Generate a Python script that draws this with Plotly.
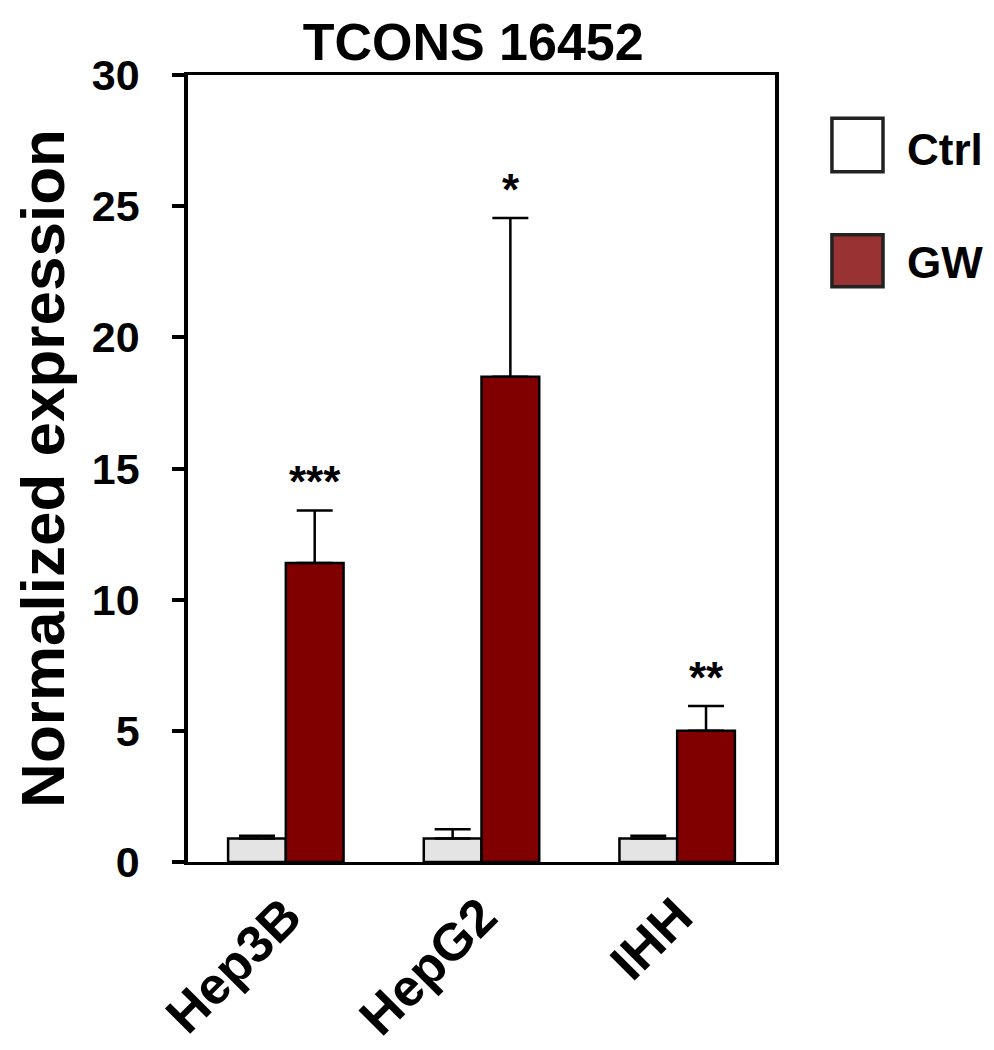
import plotly.graph_objects as go

cells = ["Hep3B", "HepG2", "IHH"]
ctrl = [0.9, 0.9, 0.9]
ctrl_err = [0.1, 0.35, 0.1]
gw = [11.4, 18.5, 5.0]
gw_err = [2.0, 6.05, 0.95]
stars = ["***", "*", "**"]

FONT = "Liberation Sans, Arial, sans-serif"

fig = go.Figure()
fig.add_trace(go.Bar(
    x=cells, y=ctrl, name="Ctrl",
    marker=dict(color="#e4e4e4", line=dict(color="black", width=2.5)),
    error_y=dict(type="data", array=ctrl_err, symmetric=False,
                 arrayminus=[0] * 3, color="black", thickness=2.5, width=18),
    showlegend=False,
))
fig.add_trace(go.Bar(
    x=cells, y=gw, name="GW",
    marker=dict(color="#800000", line=dict(color="black", width=2.5)),
    error_y=dict(type="data", array=gw_err, symmetric=False,
                 arrayminus=[0] * 3, color="black", thickness=2.5, width=18),
    showlegend=False,
))

# significance marks above GW bars
for c, v, e, s in zip(cells, gw, gw_err, stars):
    fig.add_annotation(x=c, y=v + e, text="<b>" + s + "</b>", showarrow=False,
                       xshift=29, yshift=2, yanchor="bottom",
                       font=dict(family=FONT, size=44, color="black"))

# legend drawn by hand (big boxes)
legend = [("Ctrl", "#ffffff", 0.877, 0.945, 0.905), ("GW", "#993333", 0.731, 0.797, 0.762)]
for name, col, y0, y1, yt in legend:
    fig.add_shape(type="rect", xref="paper", yref="paper",
                  x0=1.097, x1=1.184, y0=y0, y1=y1,
                  fillcolor=col, line=dict(color="#222222", width=3.5))
    fig.add_annotation(xref="paper", yref="paper", x=1.222, y=yt, text="<b>" + name + "</b>",
                       showarrow=False, xanchor="left", yanchor="middle",
                       font=dict(family=FONT, size=44, color="black"))

fig.update_layout(
    width=994, height=1050,
    margin=dict(l=180, r=227, t=67, b=196),
    paper_bgcolor="white", plot_bgcolor="white",
    barmode="group", bargap=0.41, bargroupgap=0,
    title=dict(text="<b>TCONS 16452</b>", x=0.468, xanchor="center", y=0.985, yanchor="top",
               pad=dict(t=0, b=0), font=dict(family=FONT, size=52, color="black")),
    xaxis=dict(showline=True, linecolor="black", linewidth=3, mirror=True,
               ticks="", tickangle=-45,
               tickvals=cells, ticktext=["<b>%s</b>" % c for c in cells],
               tickfont=dict(family=FONT, size=52, color="black")),
    yaxis=dict(range=[0, 30], tickvals=[0, 5, 10, 15, 20, 25, 30],
               ticktext=["<b>%d</b>" % v for v in [0, 5, 10, 15, 20, 25, 30]],
               showline=True, linecolor="black", linewidth=3.5, mirror=True,
               ticks="outside", ticklen=12, tickwidth=3.5, tickcolor="black",
               ticklabelstandoff=24,
               showgrid=False, zeroline=False,
               tickfont=dict(family=FONT, size=43, color="black"),
               title=dict(text="<b>Normalized expression</b>", standoff=16,
                          font=dict(family=FONT, size=62, color="black"))),
)

fig.write_html("out.html")
